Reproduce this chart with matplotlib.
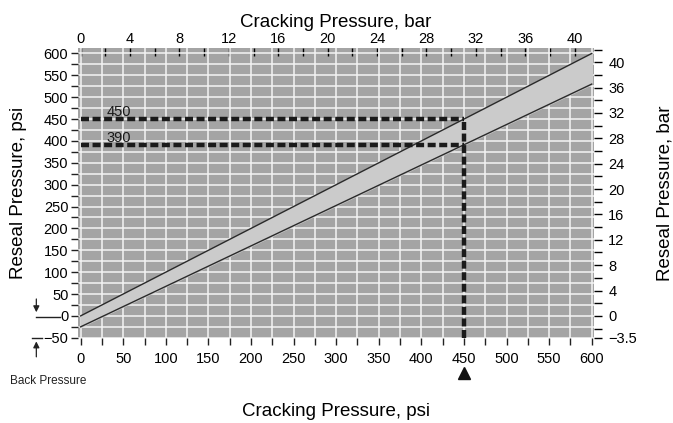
import matplotlib
matplotlib.use("Agg")
from matplotlib import pyplot as plt
from matplotlib.ticker import MultipleLocator
import numpy as np

# Data
cracking_psi = [0, 600]
reseal_max_psi = [0, 600]
reseal_min_psi = [-25, 530]
example_cracking = 450
example_reseal_max = 450
example_reseal_min = 390
left_ticks = [-50, 0, 50, 100, 150, 200, 250, 300, 350, 400, 450, 500, 550, 600]
bottom_ticks = [0, 50, 100, 150, 200, 250, 300, 350, 400, 450, 500, 550, 600]
top_bar_ticks = [0, 4, 8, 12, 16, 20, 24, 28, 32, 36, 40]
PSI_PER_BAR = 14.5
right_bar_ticks = [-50 / PSI_PER_BAR, 0, 4, 8, 12, 16, 20, 24, 28, 32, 36, 40]
right_bar_labels = ["\u22123.5", "0", "4", "8", "12", "16", "20", "24", "28", "32", "36", "40"]

plt.rcParams['font.family'] = ['Liberation Sans', 'DejaVu Sans']

fig = plt.figure(figsize=(6.73, 4.23), dpi=100)
ax = fig.add_axes([0.116, 0.201, 0.767, 0.686])
ax.set_facecolor("#a4a4a4")

ax.set_xlim(-3, 603)
ax.set_ylim(-50.5, 613)

# white grid every 25 psi
ax.xaxis.set_major_locator(MultipleLocator(50))
ax.xaxis.set_minor_locator(MultipleLocator(25))
ax.yaxis.set_major_locator(MultipleLocator(50))
ax.yaxis.set_minor_locator(MultipleLocator(25))
ax.grid(which="both", color="#f4f4f4", linewidth=1.1)
ax.set_axisbelow(True)

# band between max and min reseal
ax.fill_between(cracking_psi, reseal_min_psi, reseal_max_psi, color="#cbcbcb", zorder=2)
ax.plot(cracking_psi, reseal_max_psi, color="#2a2a2a", linewidth=1.0, zorder=3)
ax.plot(cracking_psi, reseal_min_psi, color="#2a2a2a", linewidth=1.0, zorder=3)

# example dashed lines
dash = dict(color="#1a1a1a", linewidth=3.2, dashes=(1.8, 0.8), zorder=4)
ax.plot([0, example_cracking], [example_reseal_max, example_reseal_max], **dash)
ax.plot([0, example_cracking], [example_reseal_min, example_reseal_min], **dash)
ax.plot([example_cracking, example_cracking], [-50, example_reseal_max], **dash)
ax.text(30, example_reseal_max + 8, "450", fontsize=10.5, color="#1a1a1a", zorder=5)
ax.text(30, example_reseal_min + 8, "390", fontsize=10.5, color="#1a1a1a", zorder=5)

for s in ax.spines.values():
    s.set_visible(False)

ax.set_xticks(bottom_ticks)
ax.set_yticks(left_ticks)
ax.tick_params(which="both", direction="out", length=5, width=1.0, labelsize=10.5, color="#222222")
ax.tick_params(axis="x", pad=5)
ax.tick_params(axis="y", pad=2)

# bar axes
top = ax.secondary_xaxis("top", functions=(lambda p: p / PSI_PER_BAR, lambda b: b * PSI_PER_BAR))
top.set_xticks(top_bar_ticks)
top.xaxis.set_minor_locator(MultipleLocator(2))
top.tick_params(which="both", direction="in", length=6, width=1.0, labelsize=10.5, pad=1)
top.spines["top"].set_visible(False)
top.set_xlabel("Cracking Pressure, bar", fontsize=13.5, labelpad=4)

right = ax.secondary_yaxis("right", functions=(lambda p: p / PSI_PER_BAR, lambda b: b * PSI_PER_BAR))
right.set_yticks(right_bar_ticks, labels=right_bar_labels)
right.yaxis.set_minor_locator(MultipleLocator(2))
right.tick_params(which="both", direction="out", length=6, width=1.0, labelsize=10.5, pad=4)
right.spines["right"].set_visible(False)
right.set_ylabel("Reseal Pressure, bar", fontsize=13.5, labelpad=14)

ax.set_xlabel("Cracking Pressure, psi", fontsize=13.5, labelpad=27)
ax.set_ylabel("Reseal Pressure, psi", fontsize=13.5, labelpad=12)

# back pressure marker
ax.annotate("", xy=(-52, 2), xytext=(-52, 45), xycoords="data",
            arrowprops=dict(arrowstyle="-|>", color="#222222", lw=0.9, mutation_scale=9),
            annotation_clip=False)
ax.plot([-52, -24], [-2, -2], color="#222222", lw=1.0, clip_on=False)
ax.plot([-57, -45], [-50, -50], color="#222222", lw=1.0, clip_on=False)
ax.annotate("", xy=(-52, -52), xytext=(-52, -100), xycoords="data",
            arrowprops=dict(arrowstyle="-|>", color="#222222", lw=0.9, mutation_scale=9),
            annotation_clip=False)
fig.text(0.015, 0.093, "Back Pressure", fontsize=8.5, color="#222222")

# pointer below 450
ax.plot([example_cracking], [-130], marker="^", markersize=8, color="#111111", clip_on=False)

fig.savefig("out.png", dpi=100)
